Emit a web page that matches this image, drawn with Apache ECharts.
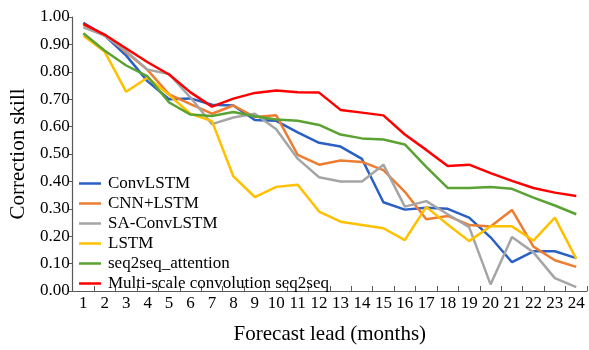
<!DOCTYPE html>
<html>
<head>
<meta charset="utf-8">
<script src="https://cdn.jsdelivr.net/npm/echarts@6/dist/echarts.min.js"></script>
<style>html,body{margin:0;padding:0;background:#fff}#c{width:589px;height:350px}</style>
</head>
<body>
<div id="c"></div>
<script>
var leads = ['1','2','3','4','5','6','7','8','9','10','11','12','13','14','15','16','17','18','19','20','21','22','23','24'];
var yTicks = [0, 1, 0.1];
var convLSTM = [0.979,0.932,0.859,0.765,0.700,0.703,0.680,0.677,0.624,0.621,0.579,0.541,0.527,0.482,0.324,0.297,0.304,0.300,0.268,0.196,0.105,0.145,0.145,0.120];
var cnnLSTM = [0.971,0.935,0.871,0.806,0.718,0.682,0.647,0.677,0.635,0.641,0.497,0.461,0.476,0.471,0.441,0.362,0.262,0.274,0.241,0.235,0.296,0.162,0.112,0.088];
var saConvLSTM = [0.962,0.932,0.875,0.808,0.792,0.706,0.609,0.633,0.647,0.590,0.483,0.415,0.400,0.400,0.461,0.308,0.328,0.280,0.233,0.024,0.197,0.141,0.047,0.014];
var lstm = [0.932,0.873,0.727,0.779,0.715,0.647,0.620,0.418,0.343,0.380,0.388,0.290,0.253,0.241,0.229,0.186,0.307,0.243,0.182,0.236,0.236,0.184,0.268,0.117];
var seq2seqAtt = [0.941,0.877,0.823,0.783,0.688,0.644,0.639,0.653,0.638,0.626,0.621,0.606,0.571,0.557,0.553,0.535,0.453,0.376,0.376,0.380,0.373,0.341,0.312,0.280];
var multiScale = [0.975,0.935,0.885,0.835,0.790,0.725,0.673,0.702,0.723,0.732,0.725,0.724,0.661,0.651,0.641,0.571,0.515,0.456,0.461,0.430,0.402,0.376,0.359,0.347];

var names = ['ConvLSTM','CNN+LSTM','SA-ConvLSTM','LSTM','seq2seq_attention','Multi-scale convolution seq2seq'];
var datas = [convLSTM, cnnLSTM, saConvLSTM, lstm, seq2seqAtt, multiScale];
var colors = ['#2a5fc4','#ed7d31','#a5a5a5','#ffc000','#5aa332','#ff0000'];

var font = 'Liberation Serif';
var series = names.map(function(n, i){
  return {name: n, type: 'line', data: datas[i], showSymbol: false, symbol: 'none',
    lineStyle: {width: 2.5, color: colors[i]}, itemStyle: {color: colors[i]}, z: 2 + i};
});

var chart = echarts.init(document.getElementById('c'), null, {renderer: 'canvas'});
chart.setOption({
  animation: false,
  backgroundColor: '#fff',
  color: colors,
  grid: {left: 72, right: 2, top: 17, bottom: 50, containLabel: false},
  legend: {
    orient: 'vertical', left: 79, top: 175, padding: 0, itemGap: 3,
    icon: 'rect', itemWidth: 22, itemHeight: 2.5,
    textStyle: {fontFamily: font, fontSize: 17, color: '#000', lineHeight: 17, padding: [0,0,0,2]},
    data: names
  },
  xAxis: {
    type: 'category', data: leads, boundaryGap: true,
    name: 'Forecast lead (months)', nameLocation: 'middle', nameGap: 33,
    nameTextStyle: {fontFamily: font, fontSize: 21, color: '#000'},
    axisLine: {lineStyle: {color: '#595959', width: 1.2}},
    axisTick: {show: true, inside: true, length: 5, lineStyle: {color: '#595959'}},
    axisLabel: {fontFamily: font, fontSize: 17, color: '#000', margin: 4, interval: 0},
    splitLine: {show: false}
  },
  yAxis: {
    type: 'value', min: yTicks[0], max: yTicks[1], interval: yTicks[2],
    name: 'Correction skill', nameLocation: 'middle', nameGap: 37,
    nameTextStyle: {fontFamily: font, fontSize: 21, color: '#000'},
    axisLine: {show: true, lineStyle: {color: '#595959', width: 1.2}},
    axisTick: {show: true, inside: false, length: 4, lineStyle: {color: '#595959'}},
    axisLabel: {fontFamily: font, fontSize: 17, color: '#000', margin: 3,
      formatter: function(v){ return v.toFixed(2); }},
    splitLine: {show: false}
  },
  series: series
});
</script>
</body>
</html>
